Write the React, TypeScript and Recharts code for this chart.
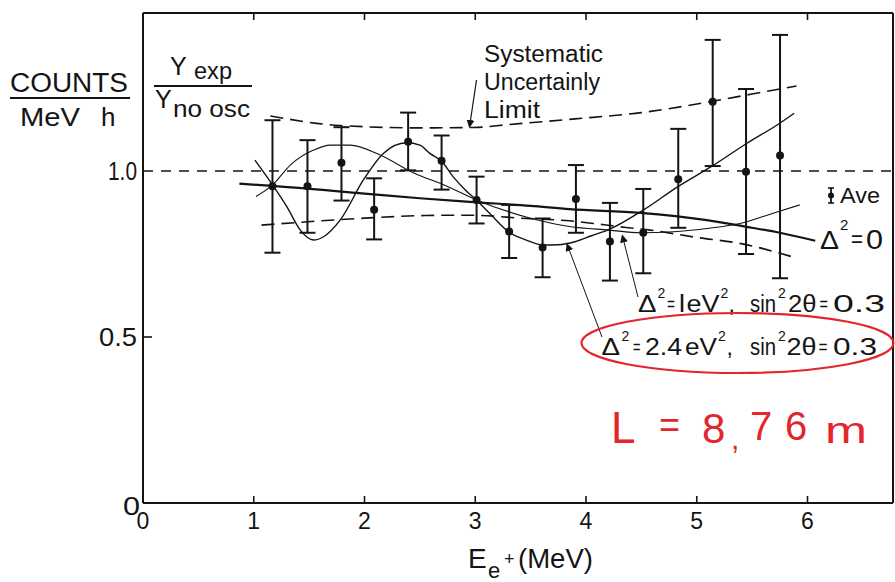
import React from 'react';
import { ComposedChart, Line, Scatter, ErrorBar, XAxis, YAxis, ReferenceLine } from 'recharts';

// ---- data ----
const energies = [1.169, 1.485, 1.792, 2.087, 2.394, 2.696, 3.012, 3.306, 3.608, 3.909, 4.216, 4.517, 4.833, 5.144, 5.445, 5.752];
const ratios = [0.954, 0.954, 1.025, 0.883, 1.088, 1.031, 0.913, 0.818, 0.770, 0.916, 0.788, 0.814, 0.975, 1.209, 0.998, 1.047];
const barLows = [0.754, 0.814, 0.911, 0.794, 1.002, 0.944, 0.842, 0.738, 0.680, 0.814, 0.670, 0.692, 0.829, 1.015, 0.750, 0.677];
const barHighs = [1.153, 1.093, 1.132, 0.978, 1.176, 1.107, 0.983, 0.898, 0.857, 1.018, 0.904, 0.946, 1.127, 1.395, 1.247, 1.410];

const zeroE = [0.87, 1.17, 2.0, 2.5, 2.95, 3.5, 3.85, 4.49, 5.09, 5.45, 5.75, 6.07];
const zeroR = [0.962, 0.955, 0.932, 0.918, 0.907, 0.895, 0.885, 0.874, 0.852, 0.832, 0.814, 0.790];

const oneE = [1.02, 1.17, 1.33, 1.54, 1.69, 1.87, 2.14, 2.44, 2.74, 3.01, 3.5, 3.85, 4.21, 4.49, 4.79, 5.09, 5.39, 5.69, 5.93];
const oneR = [0.923, 0.958, 1.018, 1.063, 1.078, 1.078, 1.048, 0.995, 0.955, 0.913, 0.858, 0.833, 0.822, 0.814, 0.817, 0.827, 0.842, 0.873, 0.898];

const twoE = [1.01, 1.17, 1.3, 1.42, 1.54, 1.63, 1.78, 1.99, 2.17, 2.38, 2.5, 2.59, 2.7, 2.8, 2.91, 3.01, 3.16, 3.3, 3.46, 3.61, 3.75, 3.9, 4.05, 4.21, 4.52, 4.83, 5.13, 5.45, 5.75, 5.88];
const twoR = [1.033, 0.958, 0.892, 0.822, 0.792, 0.802, 0.852, 0.973, 1.053, 1.085, 1.078, 1.053, 1.028, 0.983, 0.943, 0.913, 0.862, 0.817, 0.792, 0.777, 0.778, 0.787, 0.805, 0.824, 0.883, 0.953, 1.013, 1.083, 1.144, 1.174];

const upperE = [1.15, 1.78, 2.5, 2.98, 3.3, 3.9, 4.5, 5.14, 5.5, 5.9];
const upperR = [1.166, 1.137, 1.13, 1.131, 1.14, 1.157, 1.176, 1.21, 1.232, 1.256];

const lowerE = [1.07, 2.0, 2.55, 2.95, 3.46, 3.85, 4.36, 4.58, 5.0, 5.39, 5.91];
const lowerR = [0.837, 0.858, 0.866, 0.867, 0.857, 0.85, 0.83, 0.822, 0.8, 0.782, 0.737];

const xTicks = [0, 1, 2, 3, 4, 5, 6];
const xTickLabels = ['0', '1', '2', '3', '4', '5', '6'];
const topTicks = [1, 2, 3, 4, 5, 6];
const yTicks = [0, 0.5, 1.0];
const yTickLabels = ['0', '0.5', '1.0'];

const X_MAX = 6.772;
const Y_MAX = 1.476;

const points = energies.map((x, i) => ({ x, y: ratios[i], err: [ratios[i] - barLows[i], barHighs[i] - ratios[i]] }));
const toSeries = (xs: number[], ys: number[]) => xs.map((x, i) => ({ x, y: ys[i] }));
const zeroData = toSeries(zeroE, zeroR);
const oneData = toSeries(oneE, oneR);
const twoData = toSeries(twoE, twoR);
const upperData = toSeries(upperE, upperR);
const lowerData = toSeries(lowerE, lowerR);

const INK = '#141414';
const RED = '#e3262b';
const FONT = '"Liberation Sans", Arial, sans-serif';

const BottomTick = (props: any) => {
  const { x, y, payload } = props;
  const v = payload.value;
  const idx = xTicks.indexOf(v);
  return (
    <g>
      {v !== 0 && <line x1={x} y1={y} x2={x} y2={y - 7} stroke={INK} strokeWidth={1.6} />}
      <text x={x} y={y + 25.5} textAnchor="middle" fontSize={23} fontFamily={FONT} fill={INK}>
        {xTickLabels[idx]}
      </text>
    </g>
  );
};

const TopTick = (props: any) => {
  const { x, y } = props;
  return <line x1={x} y1={y} x2={x} y2={y + 7} stroke={INK} strokeWidth={1.6} />;
};

const LeftTick = (props: any) => {
  const { x, y, payload } = props;
  const v = payload.value;
  const idx = yTicks.indexOf(v);
  const lens = [17, 38, 29];
  return (
    <g>
      {v === 0.5 && <line x1={x} y1={y} x2={x + 9} y2={y} stroke={INK} strokeWidth={1.6} />}
      <text
        x={v === 0 ? x - 3 : x - 6}
        y={v === 0 ? y + 12 : y + 9}
        textAnchor="end"
        fontSize={25}
        fontFamily={FONT}
        fill={INK}
        textLength={lens[idx]}
        lengthAdjust="spacingAndGlyphs"
      >
        {yTickLabels[idx]}
      </text>
    </g>
  );
};

const Dot = (props: any) => {
  const { cx, cy } = props;
  return <circle cx={cx} cy={cy} r={4} fill={INK} />;
};

type SegProps = { x: number; y: number; s: number; t: string; w?: number; c?: string };
const Seg = ({ x, y, s, t, w, c }: SegProps) => (
  <text x={x} y={y} fontSize={s} fontFamily={FONT} fill={c || INK} textLength={w} lengthAdjust={w ? 'spacingAndGlyphs' : undefined}>
    {t}
  </text>
);

export default function App() {
  return (
    <div style={{ position: 'absolute', left: 0, top: 0, width: 895, height: 582, background: '#fff' }}>
      <ComposedChart width={895} height={582} margin={{ top: 12, right: 1, bottom: 78, left: 142 }}>
        <XAxis
          type="number"
          dataKey="x"
          domain={[0, X_MAX]}
          ticks={xTicks}
          height={1}
          tickSize={0}
          tickMargin={0}
          tickLine={false}
          tick={<BottomTick />}
          axisLine={{ stroke: INK, strokeWidth: 2 }}
          allowDataOverflow
          interval={0}
        />
        <XAxis
          xAxisId="top"
          orientation="top"
          type="number"
          dataKey="x"
          domain={[0, X_MAX]}
          ticks={topTicks}
          height={1}
          tickSize={0}
          tickMargin={0}
          tickLine={false}
          tick={<TopTick />}
          axisLine={{ stroke: INK, strokeWidth: 2 }}
          allowDataOverflow
          interval={0}
        />
        <YAxis
          type="number"
          domain={[0, Y_MAX]}
          ticks={yTicks}
          width={1}
          tickSize={0}
          tickMargin={0}
          tickLine={false}
          tick={<LeftTick />}
          axisLine={{ stroke: INK, strokeWidth: 2 }}
          allowDataOverflow
          interval={0}
        />
        <YAxis
          yAxisId="right"
          orientation="right"
          type="number"
          domain={[0, Y_MAX]}
          width={1}
          tick={false}
          tickLine={false}
          axisLine={{ stroke: INK, strokeWidth: 2 }}
          allowDataOverflow
        />
        <ReferenceLine y={1} stroke={INK} strokeWidth={1.4} strokeDasharray="10 8" />
        <Line data={upperData} dataKey="y" type="monotone" stroke={INK} strokeWidth={1.6} strokeDasharray="13 7" dot={false} isAnimationActive={false} />
        <Line data={lowerData} dataKey="y" type="monotone" stroke={INK} strokeWidth={1.6} strokeDasharray="13 7" dot={false} isAnimationActive={false} />
        <Line data={zeroData} dataKey="y" type="monotone" stroke={INK} strokeWidth={2.2} dot={false} isAnimationActive={false} />
        <Line data={oneData} dataKey="y" type="monotone" stroke={INK} strokeWidth={1.1} dot={false} isAnimationActive={false} />
        <Line data={twoData} dataKey="y" type="monotone" stroke={INK} strokeWidth={1.4} dot={false} isAnimationActive={false} />
        <Scatter data={points} dataKey="y" shape={<Dot />} isAnimationActive={false}>
          <ErrorBar dataKey="err" direction="y" width={8} stroke={INK} strokeWidth={2} isAnimationActive={false} />
        </Scatter>
      </ComposedChart>

      <svg width={895} height={582} style={{ position: 'absolute', left: 0, top: 0, pointerEvents: 'none' }}>
        <defs>
          <marker id="ah" markerWidth="8" markerHeight="8" refX="7" refY="4" orient="auto" markerUnits="userSpaceOnUse">
            <path d="M0,0 L8,4 L0,8 Z" fill={INK} />
          </marker>
        </defs>
        {/* left title */}
        <Seg x={10} y={92} s={27} t="COUNTS" w={118} />
        <line x1={10} y1={98} x2={130} y2={98} stroke={INK} strokeWidth={2} />
        <Seg x={20} y={126} s={26} t="MeV" w={60} />
        <Seg x={101} y={126} s={26} t="h" />
        {/* ratio title */}
        <Seg x={170} y={75} s={25} t="Y" />
        <Seg x={194} y={79} s={24} t="exp" w={38} />
        <line x1={154} y1={86} x2={252} y2={86} stroke={INK} strokeWidth={1.8} />
        <Seg x={155} y={108} s={25} t="Y" />
        <Seg x={173} y={117} s={24} t="no osc" w={77} />
        {/* systematic */}
        <Seg x={484} y={62} s={23} t="Systematic" w={119} />
        <Seg x={484} y={90} s={23} t="Uncertainly" w={116} />
        <Seg x={484} y={118} s={23} t="Limit" w={56} />
        <line x1={476.5} y1={80} x2={469.5} y2={127} stroke={INK} strokeWidth={1.2} markerEnd="url(#ah)" />
        {/* Ave legend */}
        <line x1={831} y1={188} x2={831} y2={203} stroke={INK} strokeWidth={1.8} />
        <line x1={828} y1={188} x2={834} y2={188} stroke={INK} strokeWidth={1.6} />
        <line x1={828} y1={203} x2={834} y2={203} stroke={INK} strokeWidth={1.6} />
        <circle cx={831} cy={195.5} r={3} fill={INK} />
        <Seg x={840} y={203} s={22} t="Ave" w={40} />
        {/* delta^2 = 0 */}
        <Seg x={820} y={249} s={26} t="Δ" w={19} />
        <Seg x={840} y={230} s={15} t="2" />
        <Seg x={851} y={247} s={24} t="=" w={12} />
        <Seg x={866} y={249} s={27} t="0" w={17} />
        {/* delta^2 = 1 */}
        <Seg x={638} y={312} s={23} t="Δ" w={18.5} />
        <Seg x={657.5} y={298} s={14} t="2" />
        <Seg x={667} y={311} s={20} t="=" w={8} />
        <Seg x={679} y={312} s={23} t="l" w={6} />
        <Seg x={686.5} y={312} s={23} t="eV" w={33} />
        <Seg x={720.5} y={298} s={14} t="2" />
        <Seg x={728.5} y={312} s={23} t="," />
        <Seg x={750} y={312} s={23} t="sin" w={26} />
        <Seg x={778} y={298} s={14} t="2" />
        <Seg x={788} y={312} s={23} t="2θ" w={28.5} />
        <Seg x={819.5} y={311} s={20} t="=" w={8.5} />
        <Seg x={833} y={312} s={23} t="0.3" w={52} />
        <line x1={638} y1={297} x2={622.3} y2={235.5} stroke={INK} strokeWidth={1} markerEnd="url(#ah)" />
        {/* delta^2 = 2.4 */}
        <Seg x={601.5} y={355} s={23} t="Δ" w={18.5} />
        <Seg x={621.5} y={341} s={14} t="2" />
        <Seg x={633} y={354} s={20} t="=" w={7.5} />
        <Seg x={645} y={355} s={23} t="2.4" w={37} />
        <Seg x={685} y={355} s={23} t="eV" w={32} />
        <Seg x={718} y={341} s={14} t="2" />
        <Seg x={726.5} y={355} s={23} t="," />
        <Seg x={750} y={355} s={23} t="sin" w={26} />
        <Seg x={778} y={341} s={14} t="2" />
        <Seg x={786.5} y={355} s={23} t="2θ" w={30} />
        <Seg x={818.5} y={354} s={20} t="=" w={9} />
        <Seg x={833} y={355} s={23} t="0.3" w={44} />
        <line x1={602} y1={337} x2={567} y2={244} stroke={INK} strokeWidth={1} markerEnd="url(#ah)" />
        {/* red annotations */}
        <ellipse cx={737.5} cy={343} rx={156} ry={30} fill="none" stroke={RED} strokeWidth={2.2} />
        <Seg x={611} y={443} s={44} t="L" c={RED} />
        <Seg x={659} y={437} s={36} t="=" c={RED} />
        <Seg x={702} y={443} s={42} t="8" c={RED} />
        <Seg x={731} y={449} s={30} t="," c={RED} />
        <Seg x={750} y={440} s={40} t="7" c={RED} />
        <Seg x={785} y={440} s={40} t="6" c={RED} />
        <Seg x={825} y={443} s={36} t="m" w={42} c={RED} />
        {/* x axis title */}
        <Seg x={468} y={568} s={28} t="E" />
        <Seg x={488} y={578} s={22} t="e" />
        <Seg x={504} y={565} s={18} t="+" />
        <Seg x={518} y={568} s={27} t="(MeV)" w={75} />
      </svg>
    </div>
  );
}
